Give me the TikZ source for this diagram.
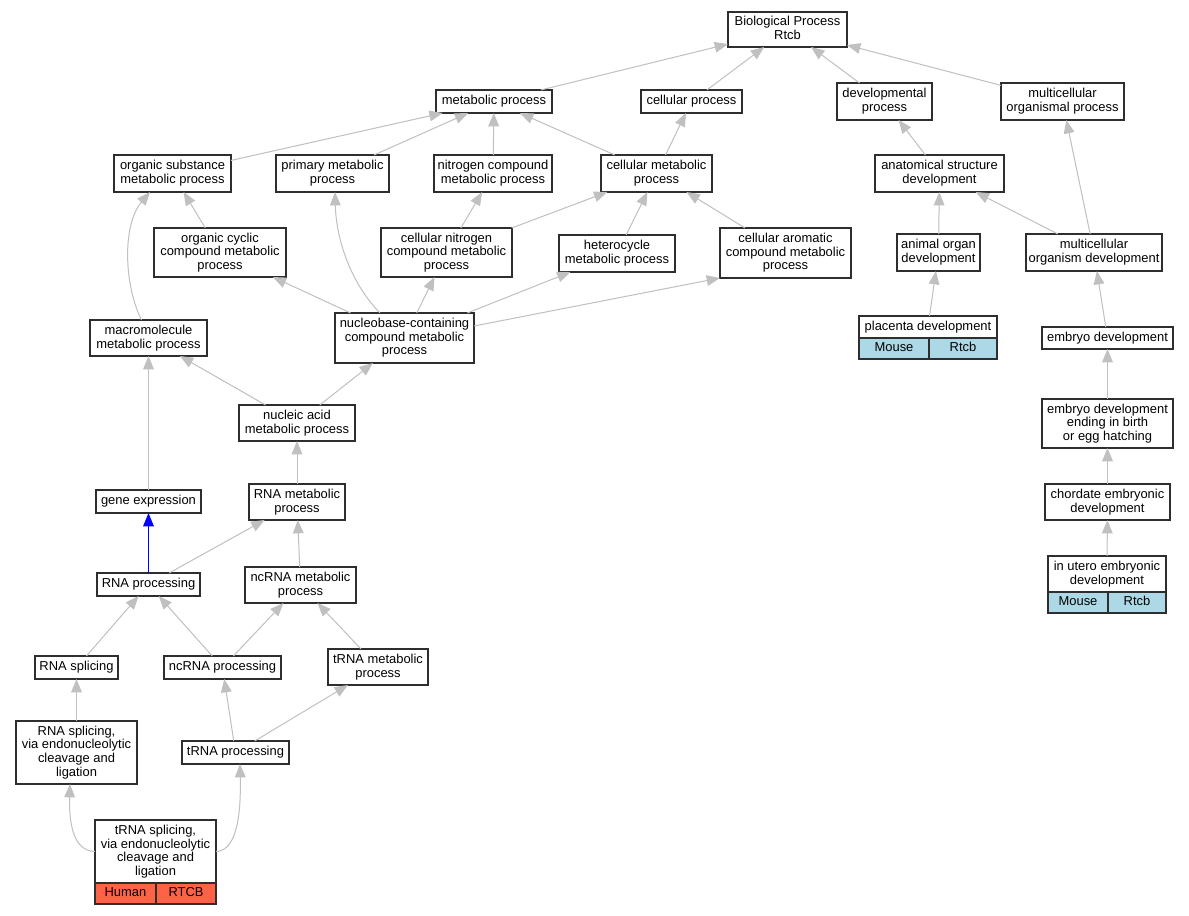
\documentclass[tikz,border=0pt]{standalone}
\usepackage{fontspec}
\setmainfont{Liberation Sans}
\usetikzlibrary{arrows.meta,calc}
\definecolor{edgegray}{HTML}{C0C0C0}
\definecolor{tomatored}{HTML}{FF6347}
\definecolor{lblue}{HTML}{ADD8E6}
\definecolor{boxline}{HTML}{2E2E2E}
\newcommand{\gstrut}{\rule[-2.1pt]{0pt}{9.1pt}}
\tikzset{
  box/.style={draw=boxline, line width=0.9pt, fill=white, inner sep=0pt, outer sep=0pt,
    align=center, font=\fontsize{9.7pt}{10.2pt}\selectfont,
    execute at begin node=\gstrut, execute at end node=\gstrut},
  redcell/.style={box, fill=tomatored},
  bluecell/.style={box, fill=lblue},
  edge/.style={draw=edgegray, line width=0.75pt, -{Triangle[length=10pt,width=8pt]}},
  keyedge/.style={edge, draw=blue},
}
\newcommand{\gbox}[7][]{%
  \node[box,#1,minimum width={(#5-#3)*0.75pt},minimum height={(#6-#4)*0.75pt}]
    (#2) at ({(#3+#5)/2},{(#4+#6)/2}) {#7};}
\begin{document}
\begin{tikzpicture}[x=0.75pt,y=-0.75pt]
\fill[white] (0,0) rectangle (1189,915);
\useasboundingbox (0,0) rectangle (1189,915);

% ---- nodes ----
\gbox{bp}{728}{12}{847}{47}{Biological Process\\Rtcb}
\gbox{mp}{436}{90}{552}{113}{metabolic process}
\gbox{cp}{641}{90}{742}{113}{cellular process}
\gbox{dp}{837}{83}{932}{120}{developmental\\process}
\gbox{mop}{1001}{83}{1124}{120}{multicellular\\organismal process}
\gbox{os}{114}{155}{231}{192}{organic substance\\metabolic process}
\gbox{pm}{276}{155}{389}{192}{primary metabolic\\process}
\gbox{nc}{434}{155}{552}{192}{nitrogen compound\\metabolic process}
\gbox{cm}{601}{155}{712}{192}{cellular metabolic\\process}
\gbox{asd}{875}{155}{1004}{192}{anatomical structure\\development}
\gbox{oc}{154}{228}{286}{277}{organic cyclic\\compound metabolic\\process}
\gbox{cn}{381}{228}{512}{277}{cellular nitrogen\\compound metabolic\\process}
\gbox{het}{559}{235}{675}{272}{heterocycle\\metabolic process}
\gbox{ca}{720}{228}{851}{278}{cellular aromatic\\compound metabolic\\process}
\gbox{aod}{897}{234}{980}{271}{animal organ\\development}
\gbox{mod}{1026}{234}{1162}{271}{multicellular\\organism development}
\gbox{mm}{90}{320}{207}{356}{macromolecule\\metabolic process}
\gbox{nb}{335}{313}{474}{363}{nucleobase-containing\\compound metabolic\\process}
\gbox{pl}{859}{316}{997}{338}{placenta development}
\gbox[bluecell]{plA}{859}{338}{929}{359}{Mouse}
\gbox[bluecell]{plB}{929}{338}{997}{359}{Rtcb}
\gbox{ed}{1042}{327}{1173}{349}{embryo development}
\gbox{na}{239}{405}{355}{441}{nucleic acid\\metabolic process}
\gbox{edb}{1042}{399}{1173}{448}{embryo development\\ending in birth\\or egg hatching}
\gbox{ge}{96}{490}{201}{513}{gene expression}
\gbox{rm}{249}{484}{345}{520}{RNA metabolic\\process}
\gbox{ced}{1045}{484}{1170}{520}{chordate embryonic\\development}
\gbox{rp}{97}{573}{200}{596}{RNA processing}
\gbox{ncm}{245}{567}{356}{603}{ncRNA metabolic\\process}
\gbox{iu}{1048}{556}{1166}{592}{in utero embryonic\\development}
\gbox[bluecell]{iuA}{1048}{592}{1108}{613}{Mouse}
\gbox[bluecell]{iuB}{1108}{592}{1166}{613}{Rtcb}
\gbox{rs}{35}{656}{118}{679}{RNA splicing}
\gbox{ncp}{164}{656}{281}{679}{ncRNA processing}
\gbox{tm}{328}{649}{428}{685}{tRNA metabolic\\process}
\gbox{rsv}{16}{721}{137}{784}{RNA splicing,\\via endonucleolytic\\cleavage and\\ligation}
\gbox{tp}{182}{741}{289}{764}{tRNA processing}
\gbox{ts}{95}{820}{216}{883}{tRNA splicing,\\via endonucleolytic\\cleavage and\\ligation}
\gbox[redcell]{tsA}{95}{883}{156}{904}{Human}
\gbox[redcell]{tsB}{156}{883}{216}{904}{RTCB}

% ---- edges ----
\draw[edge] (mp) -- (bp);
\draw[edge] (cp) -- (bp);
\draw[edge] (dp) -- (bp);
\draw[edge] (mop) -- (bp);
\draw[edge] (os) -- (mp);
\draw[edge] (pm) -- (mp);
\draw[edge] (nc) -- (mp);
\draw[edge] (cm) -- (mp);
\draw[edge] (cm) -- (cp);
\draw[edge] (asd) -- (dp);
\draw[edge] (mod) -- (mop);
\draw[edge] (mod) -- (asd);
\draw[edge] (aod) -- (asd);
\draw[edge] (pl) -- (aod);
\draw[edge] (ed) -- (mod);
\draw[edge] (edb) -- (ed);
\draw[edge] (ced) -- (edb);
\draw[edge] (iu) -- (ced);
\draw[edge] (oc) -- (os);
\draw[edge] ($(mm.north)+(-7,0)$) .. controls (124,285) and (122,225) .. ($(os.south)+(-22.5,0)$);
\draw[edge] (cn) -- (nc);
\draw[edge] (cn) -- (cm);
\draw[edge] (het) -- (cm);
\draw[edge] (ca) -- (cm);
\draw[edge] ($(nb.north)+(-24.5,0)$) .. controls (348,280) and (336,235) .. ($(pm.south)+(2.5,0)$);
\draw[edge] (nb) -- (oc);
\draw[edge] (nb) -- (cn);
\draw[edge] (nb) -- (het);
\draw[edge] ($(nb.east)+(0,-12)$) -- (ca.south west);
\draw[edge] (na) -- (mm);
\draw[edge] (na) -- (nb);
\draw[edge] (ge) -- (mm);
\draw[edge] (rm) -- (na);
\draw[keyedge] (rp) -- (ge);
\draw[edge] (rp) -- (rm);
\draw[edge] (ncm) -- (rm);
\draw[edge] (rs) -- (rp);
\draw[edge] (ncp) -- (rp);
\draw[edge] (ncp) -- (ncm);
\draw[edge] (tm) -- (ncm);
\draw[edge] (rsv) -- (rs);
\draw[edge] (tp) -- (ncp);
\draw[edge] (tp) -- (tm);
\draw[edge] (ts.west) .. controls (72,851) and (69,820) .. ($(rsv.south)+(-6.5,0)$);
\draw[edge] (ts.east) .. controls (238,851) and (241,810) .. ($(tp.south)+(4.5,0)$);
\end{tikzpicture}
\end{document}
